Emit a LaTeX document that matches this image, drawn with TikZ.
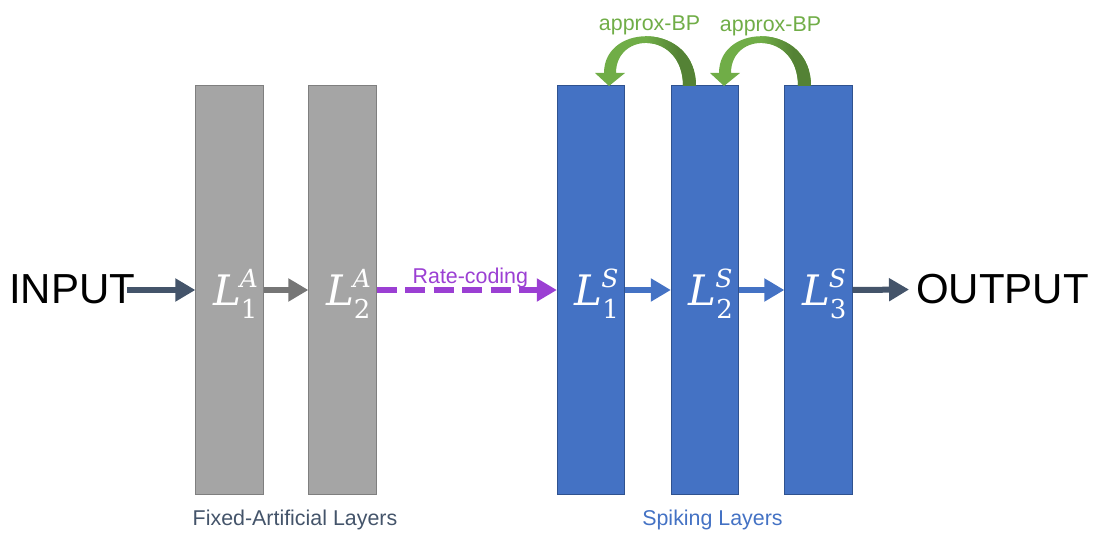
\documentclass[tikz,border=0pt]{standalone}
\usepackage{fontspec}
\setmainfont{Liberation Sans}
\newfontfamily\layerfont{DejaVu Serif}
\usetikzlibrary{arrows.meta}

\definecolor{artgray}{HTML}{A5A5A5}
\definecolor{artedge}{HTML}{7F7F7F}
\definecolor{linkgray}{HTML}{767676}
\definecolor{spkblue}{HTML}{4472C4}
\definecolor{spkedge}{HTML}{2F528F}
\definecolor{slate}{HTML}{44546A}
\definecolor{ratepurple}{HTML}{9B3FD3}
\definecolor{bplight}{HTML}{70AD47}
\definecolor{bpdark}{HTML}{548235}

% layer symbol: italic L with a superscript letter and a subscript index
\newsavebox\lsupbox
\newsavebox\lsubbox
\newcommand\lname[2]{%
  {\layerfont\fontsize{42}{50}\selectfont\itshape L}\kern-1pt%
  \sbox\lsupbox{\layerfont\fontsize{25}{28}\selectfont\itshape #1}%
  \sbox\lsubbox{\layerfont\fontsize{26}{28}\selectfont #2}%
  \rlap{\raisebox{18.5pt}{\usebox\lsupbox}}%
  \rlap{\kern1pt\raisebox{-12.5pt}{\usebox\lsubbox}}%
  \hspace{\ifdim\wd\lsupbox>\wd\lsubbox \wd\lsupbox\else\wd\lsubbox\fi}}

% outline of one curved feedback arrow, tail on the right, head on the left
\newcommand\bpoutline{%
  (44,448) .. controls (44,512) and (-48,512) .. (-48,461)
  -- (-57,461) -- (-43,448) -- (-27,461) -- (-36,461)
  .. controls (-36,503) and (31,503) .. (31,448) -- cycle}

\newcommand\bparrow[1]{%
  \begin{scope}[shift={(#1,0)}]
    \fill[bplight] \bpoutline;
    \begin{scope}
      \clip \bpoutline;
      \shade[left color=bplight, right color=bpdark] (-6,440) rectangle (26,520);
      \fill[bpdark] (26,440) rectangle (50,520);
    \end{scope}
  \end{scope}}

\begin{document}
\begin{tikzpicture}[x=1pt,y=1pt,
  layer/.style={minimum width=67.5pt, minimum height=409pt, inner sep=0pt, line width=0.8pt},
  artlayer/.style={layer, fill=artgray, draw=artedge},
  spklayer/.style={layer, fill=spkblue, draw=spkedge},
  laylabel/.style={text=white, inner sep=0pt, anchor=base},
  flow/.style={line width=6pt, -{Triangle[length=20pt,width=22pt]}},
  bigword/.style={inner sep=0pt, anchor=base west, font=\fontsize{42}{50}\selectfont},
  caption/.style={anchor=base, inner sep=0pt, font=\fontsize{21.4}{25}\selectfont},
]
\useasboundingbox (0,0) rectangle (1094,534);

% layers
\node[artlayer] (a1) at (229.5,244) {};
\node[artlayer] (a2) at (342.5,244) {};
\node[spklayer] (s1) at (591,244) {};
\node[spklayer] (s2) at (705,244) {};
\node[spklayer] (s3) at (818.5,244) {};

\node[laylabel] (la1) at ([xshift=-3pt,yshift=-16pt]a1.center) {\lname{A}{1}};
\node[laylabel] (la2) at ([xshift=-3pt,yshift=-16pt]a2.center) {\lname{A}{2}};
\node[laylabel] (ls1) at ([xshift=-3pt,yshift=-16pt]s1.center) {\lname{S}{1}};
\node[laylabel] (ls2) at ([xshift=-3pt,yshift=-16pt]s2.center) {\lname{S}{2}};
\node[laylabel] (ls3) at ([xshift=-3pt,yshift=-16pt]s3.center) {\lname{S}{3}};

% input / output
\node[bigword] (in) at (9,230) {INPUT};
\node[bigword, inner xsep=7pt] (out) at (909,230) {OUTPUT};
\coordinate (inTail) at (127,244);

% forward connections
\draw[flow, slate] (inTail) -- (a1.west);
\draw[flow, linkgray] (a1.east) -- (a2.west);
\draw[flow, ratepurple, dash pattern=on 20pt off 8.5pt] (a2.east) -- (s1.west)
  node[caption, text=ratepurple, pos=0.52, yshift=6pt] (rate) {Rate-coding};
\draw[flow, spkblue] (s1.east) -- (s2.west);
\draw[flow, spkblue] (s2.east) -- (s3.west);
\draw[flow, slate] (s3.east) -- (out.west);

% approximate back-propagation between spiking layers
\bparrow{652}
\bparrow{767}
\node[caption, text=bplight] (bp1) at (649.5,503.5) {approx-BP};
\node[caption, text=bplight] (bp2) at (770.5,502) {approx-BP};

% group captions
\node[caption, text=slate] (fixcap) at (295,8) {Fixed-Artificial Layers};
\node[caption, text=spkblue] (spkcap) at (712.5,8) {Spiking Layers};
\end{tikzpicture}
\end{document}
